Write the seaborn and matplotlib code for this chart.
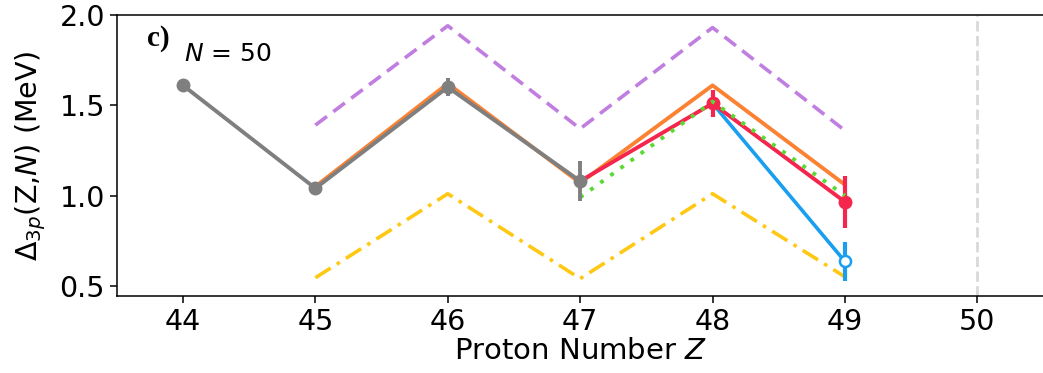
import numpy as np
import pandas as pd
import matplotlib
matplotlib.use("Agg")
import matplotlib.pyplot as plt
import seaborn as sns

sns.set_style("ticks")
plt.rcParams['font.family'] = ['DejaVu Sans']
plt.rcParams['text.color'] = 'black'
plt.rcParams['axes.labelcolor'] = 'black'
plt.rcParams['xtick.color'] = 'black'
plt.rcParams['ytick.color'] = 'black'
plt.rcParams['axes.edgecolor'] = 'black'

# Data
z_exp = [44, 45, 46, 47]
d_exp = [1.61, 1.04, 1.60, 1.08]
e_exp = [0.0, 0.0, 0.05, 0.11]

z_orange = [45, 46, 47, 48, 49]
d_orange = [1.05, 1.62, 1.07, 1.61, 1.06]

z_red = [47, 48, 49]
d_red = [1.08, 1.51, 0.965]
e_red = [0.0, 0.075, 0.145]

z_green = [47, 48, 49]
d_green = [0.99, 1.52, 1.00]

z_blue = [48, 49]
d_blue = [1.51, 0.635]
e_blue = [0.0, 0.11]

z_purple = [45, 46, 47, 48, 49]
d_purple = [1.39, 1.94, 1.37, 1.93, 1.36]

z_yellow = [45, 46, 47, 48, 49]
d_yellow = [0.545, 1.01, 0.54, 1.01, 0.55]

xticks = [44, 45, 46, 47, 48, 49, 50]
yticks = [0.5, 1.0, 1.5, 2.0]

c_gray = '#7f7f7f'
c_orange = '#fb8233'
c_red = '#f4264d'
c_green = '#5ad934'
c_blue = '#1a9ff0'
c_purple = '#c07ee0'
c_yellow = '#ffc814'

fig = plt.figure(figsize=(10.43, 3.73), dpi=100)
ax = fig.add_axes([0.112, 0.206, 0.8885, 0.754])

ax.axvline(50, color='#d9d9d9', lw=2, ls='--', zorder=0)

sns.lineplot(x=z_purple, y=d_purple, ax=ax, color=c_purple, lw=2.6,
             linestyle=(0, (4, 2.2)), zorder=1)
sns.lineplot(x=z_yellow, y=d_yellow, ax=ax, color=c_yellow, lw=2.6,
             linestyle=(0, (5, 2, 1, 2)), zorder=1)
sns.lineplot(x=z_orange, y=d_orange, ax=ax, color=c_orange, lw=2.8, zorder=2)
sns.lineplot(x=z_blue, y=d_blue, ax=ax, color=c_blue, lw=2.6, zorder=3)
ax.errorbar(z_blue[1:], d_blue[1:], yerr=e_blue[1:], fmt='o', mfc='white',
            mec=c_blue, mew=1.8, ms=8, color=c_blue, elinewidth=3, zorder=3)
sns.lineplot(x=z_red, y=d_red, ax=ax, color=c_red, lw=2.8, zorder=4)
ax.errorbar(z_red[1:], d_red[1:], yerr=e_red[1:], fmt='o', ms=9,
            color=c_red, elinewidth=3, zorder=4)
sns.lineplot(x=z_green, y=d_green, ax=ax, color=c_green, lw=2.8,
             linestyle=(0, (1, 2.2)), zorder=5)
sns.lineplot(x=z_exp, y=d_exp, ax=ax, color=c_gray, lw=2.8, zorder=6)
ax.errorbar(z_exp, d_exp, yerr=e_exp, fmt='o', ms=9, color=c_gray,
            elinewidth=2.8, zorder=6)

ax.set_xlim(43.5, 50.5)
ax.set_ylim(0.443, 2.0)
ax.set_xticks(xticks)
ax.set_yticks(yticks)
ax.tick_params(labelsize=20.5, length=5, width=1.1, colors='black')
for s in ax.spines.values():
    s.set_linewidth(1.1)
    s.set_color('black')
ax.spines['right'].set_visible(False)

ax.set_xlabel('Proton Number $Z$', fontsize=21, labelpad=1)
ax.set_ylabel(r'$\Delta_{3p}$(Z,$N$) (MeV)', fontsize=20.5, labelpad=8)

ax.text(0.033, 0.965, 'c)', transform=ax.transAxes, fontsize=21,
        fontweight='bold', family='Liberation Serif', va='top')
ax.text(0.073, 0.905, '$N$ = 50', transform=ax.transAxes, fontsize=18,
        va='top')

fig.savefig('out.png', dpi=100)
